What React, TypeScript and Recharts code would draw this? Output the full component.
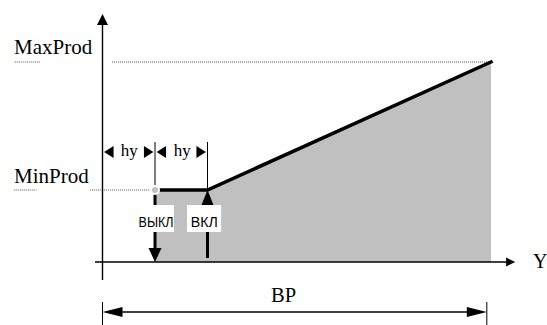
import React from 'react';
import {
  ComposedChart,
  Area,
  Line,
  XAxis,
  YAxis,
  ReferenceLine,
  ReferenceArea,
  ReferenceDot,
} from 'recharts';

// level Y (hy = 10 units) -> production (MaxProd = 100)
const levels = [10, 20, 74];
const production = [36, 36, 100];
const HY = 10;
const BP_END = 73.2;
const MIN_PROD = 36;
const MAX_PROD = 100;
const levelLabels = ['MaxProd', 'MinProd'];
const switchLabels = ['ВЫКЛ', 'ВКЛ'];
const axisLabel = 'Y';
const bandLabel = 'BP';
const hyLabel = 'hy';

const data = levels.map((level, i) => ({ level, prod: production[i] }));

const SERIF = '"Liberation Serif", "Times New Roman", serif';
const SANS = '"Liberation Sans", Arial, sans-serif';
const DOTS = { stroke: '#555', strokeWidth: 1, strokeDasharray: '1 1' };

type ArrowOpts = { start?: boolean; end?: boolean; len: number; half: number; width: number; line?: boolean };

const arrow = (o: ArrowOpts) => (p: any) => {
  const { x1, y1, x2, y2 } = p;
  const dx = x2 - x1;
  const dy = y2 - y1;
  const d = Math.hypot(dx, dy) || 1;
  const ux = dx / d;
  const uy = dy / d;
  const head = (tx: number, ty: number, sx: number, sy: number) => {
    const bx = tx - sx * o.len;
    const by = ty - sy * o.len;
    return `${tx},${ty} ${bx - sy * o.half},${by + sx * o.half} ${bx + sy * o.half},${by - sx * o.half}`;
  };
  const lx1 = o.start ? x1 + ux * o.len * 0.8 : x1;
  const ly1 = o.start ? y1 + uy * o.len * 0.8 : y1;
  const lx2 = o.end ? x2 - ux * o.len * 0.8 : x2;
  const ly2 = o.end ? y2 - uy * o.len * 0.8 : y2;
  return (
    <g>
      {o.line !== false && (
        <line x1={lx1} y1={ly1} x2={lx2} y2={ly2} stroke="#000" strokeWidth={o.width} />
      )}
      {o.start && <polygon points={head(x1, y1, -ux, -uy)} fill="#000" />}
      {o.end && <polygon points={head(x2, y2, ux, uy)} fill="#000" />}
    </g>
  );
};

const label = (
  text: string,
  font: string,
  size: number,
  anchor: 'start' | 'middle' = 'start',
  fitWidth?: number,
) => (p: any) => (
  <text
    x={p.cx}
    y={p.cy}
    fontFamily={font}
    fontSize={size}
    textAnchor={anchor}
    fill="#000"
    textLength={fitWidth}
    lengthAdjust={fitWidth ? 'spacingAndGlyphs' : undefined}
  >
    {text}
  </text>
);

const seg = (x1: number, y1: number, x2: number, y2: number) => [
  { x: x1, y: y1 },
  { x: x2, y: y2 },
];

export default function App() {
  return (
    <div style={{ position: 'absolute', left: 0, top: 0, width: 547, height: 325, background: '#fff' }}>
      <ComposedChart width={547} height={325} data={data} margin={{ top: 0, right: 0, bottom: 0, left: 0 }}>
        <XAxis hide type="number" dataKey="level" domain={[-19.524, 84.667]} allowDataOverflow />
        <YAxis hide type="number" domain={[-31.5, 131]} allowDataOverflow />

        <Area
          type="linear"
          dataKey="prod"
          baseValue={0}
          stroke="none"
          fill="#c0c0c0"
          fillOpacity={1}
          isAnimationActive={false}
          zIndex={100}
        />

        {/* dotted guide lines */}
        <ReferenceLine segment={seg(1.8, MAX_PROD, 74, MAX_PROD)} {...DOTS} ifOverflow="visible" zIndex={150} />
        <ReferenceLine segment={seg(-16.7, MAX_PROD, -11.8, MAX_PROD)} {...DOTS} ifOverflow="visible" zIndex={150} />
        <ReferenceLine segment={seg(-16.9, MIN_PROD, -12.6, MIN_PROD)} {...DOTS} ifOverflow="visible" zIndex={150} />
        <ReferenceLine segment={seg(-2.4, MIN_PROD, HY - 0.3, MIN_PROD)} {...DOTS} ifOverflow="visible" zIndex={150} />

        {/* axes */}
        <ReferenceLine segment={seg(0, -9, 0, 124)} ifOverflow="visible" zIndex={500}
          shape={arrow({ end: true, len: 11, half: 5.5, width: 1.4 })} />
        <ReferenceLine segment={seg(-1.43, 0, 78.6, 0)} ifOverflow="visible" zIndex={500}
          shape={arrow({ end: true, len: 9, half: 4.5, width: 1.4 })} />

        {/* hy dimensions */}
        <ReferenceLine segment={seg(HY, 60, HY, MIN_PROD)} stroke="#000" strokeWidth={1} ifOverflow="visible" zIndex={500} />
        <ReferenceLine segment={seg(2 * HY, 60, 2 * HY, MIN_PROD)} stroke="#000" strokeWidth={1} ifOverflow="visible" zIndex={500} />
        <ReferenceLine segment={seg(0.3, 55, HY - 0.3, 55)} ifOverflow="visible" zIndex={500}
          shape={arrow({ start: true, end: true, len: 9.5, half: 6, width: 1, line: false })} />
        <ReferenceLine segment={seg(HY + 0.3, 55, 2 * HY - 0.3, 55)} ifOverflow="visible" zIndex={500}
          shape={arrow({ start: true, end: true, len: 9.5, half: 6, width: 1, line: false })} />

        {/* switch arrows */}
        <ReferenceLine segment={seg(HY, MIN_PROD, HY, 0)} ifOverflow="visible" zIndex={500}
          shape={arrow({ end: true, len: 14, half: 6.5, width: 3 })} />
        <ReferenceLine segment={seg(2 * HY, 2, 2 * HY, MIN_PROD)} ifOverflow="visible" zIndex={500}
          shape={arrow({ end: true, len: 15, half: 6, width: 3 })} />

        {/* BP dimension */}
        <ReferenceLine segment={seg(0, -20, 0, -31.5)} stroke="#000" strokeWidth={1} ifOverflow="visible" zIndex={500} />
        <ReferenceLine segment={seg(BP_END, -20, BP_END, -31.5)} stroke="#000" strokeWidth={1} ifOverflow="visible" zIndex={500} />
        <ReferenceLine segment={seg(0, -25, BP_END, -25)} ifOverflow="visible" zIndex={500}
          shape={arrow({ start: true, end: true, len: 20, half: 5, width: 1.6 })} />

        <Line
          type="linear"
          dataKey="prod"
          stroke="#000"
          strokeWidth={3.5}
          strokeLinecap="square"
          dot={false}
          activeDot={false}
          isAnimationActive={false}
          zIndex={550}
        />

        {/* label boxes */}
        <ReferenceArea x1={6.6} x2={13.6} y1={15} y2={28.5} fill="#fff" fillOpacity={1} stroke="none" ifOverflow="visible" zIndex={600} />
        <ReferenceArea x1={16.1} x2={22.6} y1={15} y2={28.5} fill="#fff" fillOpacity={1} stroke="none" ifOverflow="visible" zIndex={600} />

        {/* texts */}
        <ReferenceDot x={-16.86} y={104} r={0} ifOverflow="visible" zIndex={700} shape={label(levelLabels[0], SERIF, 21)} />
        <ReferenceDot x={-16.86} y={39.5} r={0} ifOverflow="visible" zIndex={700} shape={label(levelLabels[1], SERIF, 21)} />
        <ReferenceDot x={5.1} y={53} r={0} ifOverflow="visible" zIndex={700} shape={label(hyLabel, SERIF, 17, 'middle')} />
        <ReferenceDot x={15.2} y={53} r={0} ifOverflow="visible" zIndex={700} shape={label(hyLabel, SERIF, 17, 'middle')} />
        <ReferenceDot x={10.2} y={17.5} r={0} ifOverflow="visible" zIndex={700} shape={label(switchLabels[0], SANS, 15.5, 'middle', 35)} />
        <ReferenceDot x={19.4} y={17.5} r={0} ifOverflow="visible" zIndex={700} shape={label(switchLabels[1], SANS, 15.5, 'middle', 27)} />
        <ReferenceDot x={82} y={-3} r={0} ifOverflow="visible" zIndex={700} shape={label(axisLabel, SERIF, 20)} />
        <ReferenceDot x={34.5} y={-20} r={0} ifOverflow="visible" zIndex={700} shape={label(bandLabel, SERIF, 20.5, 'middle')} />
      </ComposedChart>
    </div>
  );
}
